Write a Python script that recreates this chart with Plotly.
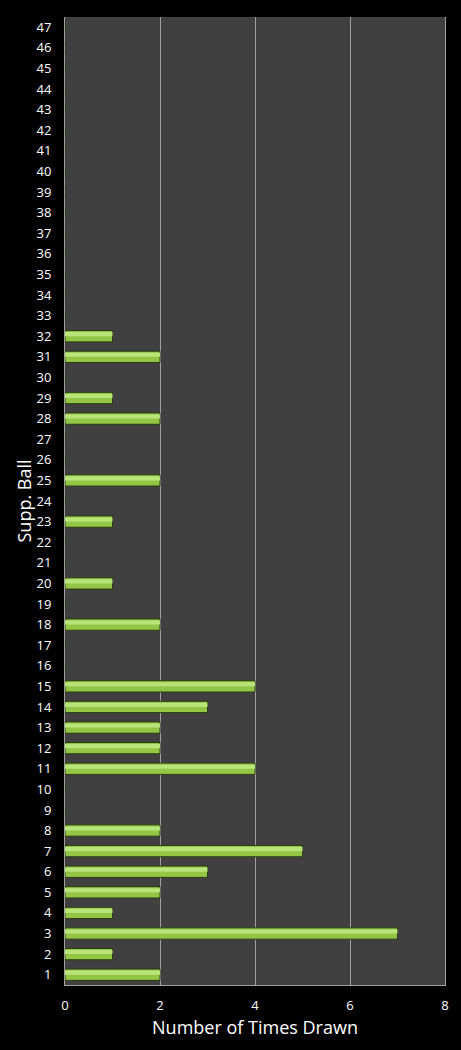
import plotly.graph_objects as go

balls = list(range(1, 48))
times_drawn = [2, 1, 7, 1, 2, 3, 5, 2, 0, 0,
               4, 2, 2, 3, 4, 0, 0, 2, 0, 1,
               0, 0, 1, 0, 2, 0, 0, 2, 1, 0,
               2, 1, 0, 0, 0, 0, 0, 0, 0, 0,
               0, 0, 0, 0, 0, 0, 0]
x_ticks = [0, 2, 4, 6, 8]

bars = go.Bar(
    x=times_drawn, y=balls, orientation='h',
    marker=dict(color='#94c646', line=dict(color='#2b3a12', width=1)),
    width=0.55, offset=-0.275,
)
# lighter band over the top half of each bar, gives the glossy look
shine = go.Bar(
    x=times_drawn, y=balls, orientation='h',
    marker=dict(color='#b8e47a', line=dict(width=0)),
    width=0.2, offset=0.0, hoverinfo='skip',
)

fig = go.Figure(data=[bars, shine])

fig.update_layout(
    width=461, height=1050,
    paper_bgcolor='black', plot_bgcolor='#404040',
    margin=dict(l=65, r=16, t=17, b=65),
    font=dict(family='Open Sans', color='white', size=13),
    showlegend=False, barmode='overlay',
)

fig.update_xaxes(
    range=[0, 8], tickvals=x_ticks, showgrid=True, gridcolor='#a0a0a0', gridwidth=1,
    showline=True, linecolor='#a0a0a0', linewidth=1, zeroline=False,
    ticks='', ticklabelstandoff=8,
    title=dict(text='Number of Times Drawn', font=dict(size=18), standoff=8),
)
fig.update_yaxes(
    range=[0.5, 47.5], tickvals=balls, showgrid=False,
    showline=True, linecolor='#a0a0a0', linewidth=1, mirror=True, zeroline=False,
    ticks='', ticklabelstandoff=10,
    title=dict(text='Supp. Ball', font=dict(size=18), standoff=0),
)

# drop the default page margin so the figure sits flush in the window
fig.write_html("out.html", config={'displayModeBar': False},
               post_script="document.body.style.margin='0';document.body.style.background='black';")
